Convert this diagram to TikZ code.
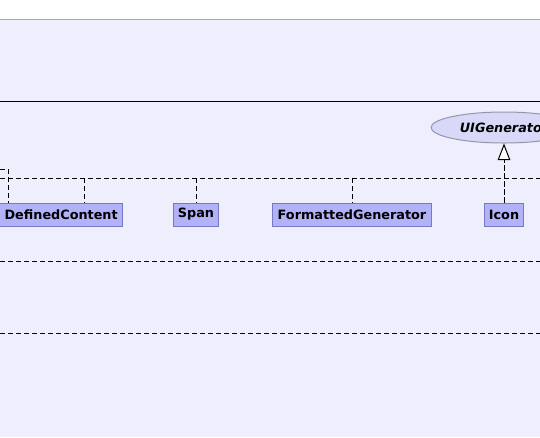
\documentclass[tikz,border=0pt]{standalone}
\usepackage{fontspec}
\setmainfont{DejaVu Sans}
\usetikzlibrary{arrows.meta,shapes.geometric}

\definecolor{pagebg}{RGB}{238,238,252}
\definecolor{boxfill}{RGB}{178,178,248}
\definecolor{boxline}{RGB}{120,120,200}
\definecolor{ifill}{RGB}{216,216,248}
\definecolor{iline}{RGB}{150,150,170}
\definecolor{frameline}{RGB}{168,168,176}

\tikzset{
  classbox/.style={draw=boxline,fill=boxfill,line width=0.75pt,
    minimum height=17.25pt,inner xsep=3.6pt,inner ysep=0pt,
    font=\fontsize{9.6}{11}\selectfont\bfseries},
  iface/.style={ellipse,draw=iline,fill=ifill,line width=0.75pt,
    minimum width=109.5pt,minimum height=23.25pt,inner sep=0pt,
    font=\fontsize{9.6}{11}\selectfont\bfseries\itshape},
  dep/.style={draw,line width=0.75pt,dash pattern=on 4pt off 2pt},
  realize/.style={dep,-{Triangle[open,length=12.5pt,width=9.5pt,fill=white]}}
}

\begin{document}
\begin{tikzpicture}[x=0.75pt,y=-0.75pt]

      \useasboundingbox (0,0) rectangle (540,437);
      \fill[pagebg] (0,19) rectangle (540,437);
      \draw[frameline,line width=0.75pt] (0,19) -- (540,19);
      \draw[black,line width=0.75pt] (0,101) -- (540,101);

      \begin{scope}[every node/.style={classbox}]
        \node[anchor=east] (DefinedContent) at (123,214.5) {DefinedContent};
        \node (Span)              at (196,214.5) {Span};
        \node (FormattedGenerator) at (352,214.5) {FormattedGenerator};
        \node (Icon)              at (504,214.5) {Icon};
      \end{scope}

      \node[iface] (UIGenerator) at (504,127.5) {UIGenerator};

      % free ends of the dashed lines
      \coordinate (busL)  at (0,178);
      \coordinate (busR)  at (540,178);
      \coordinate (inL)   at (0,169);
      \coordinate (inC)   at (8,169);
      \coordinate (dcBus) at (84,178);
      \coordinate (midL)  at (0,261);
      \coordinate (midR)  at (540,261);
      \coordinate (lowL)  at (0,333);
      \coordinate (lowR)  at (540,333);

      \begin{scope}[every path/.style={dep}]
        \path (busL) -- (busR);
        \path (midL) -- (midR);
        \path (lowL) -- (lowR);
        \path (inL) -- (inC) -- (inC |- DefinedContent.north);
        \path (dcBus) -- (dcBus |- DefinedContent.north);
        \path (Span.north |- busL) -- (Span.north);
        \path (FormattedGenerator.north |- busL) -- (FormattedGenerator.north);
      \end{scope}

      \draw[realize] (Icon.north) -- (UIGenerator.south);

    \end{tikzpicture}
\end{document}
